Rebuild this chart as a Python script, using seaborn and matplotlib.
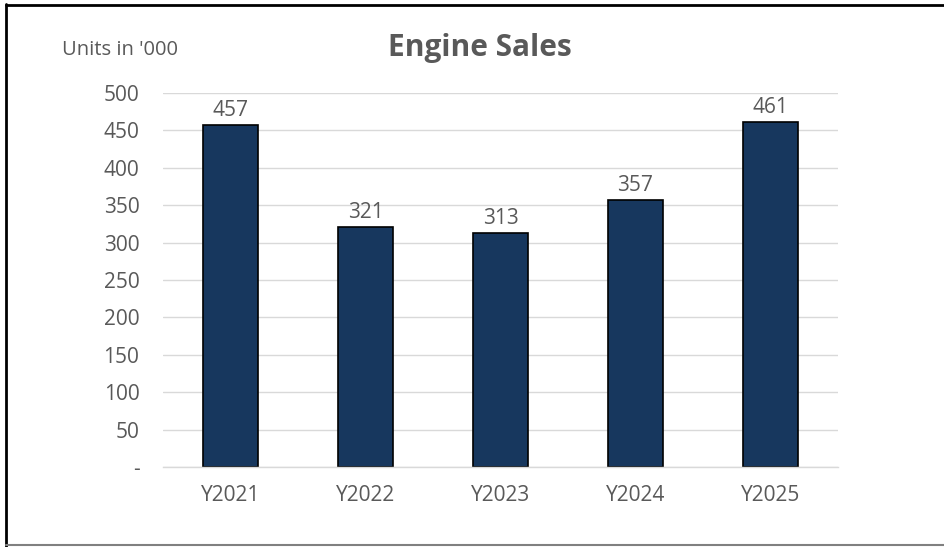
import matplotlib
matplotlib.use("Agg")
import matplotlib.pyplot as plt
import seaborn as sns
import pandas as pd
from matplotlib.lines import Line2D

years = ["Y2021", "Y2022", "Y2023", "Y2024", "Y2025"]
sales = [457, 321, 313, 357, 461]
yticks = [0, 50, 100, 150, 200, 250, 300, 350, 400, 450, 500]
ytick_labels = ["-", "50", "100", "150", "200", "250", "300", "350", "400", "450", "500"]

sns.set_theme(style="white")
plt.rcParams['font.family'] = ['Open Sans', 'DejaVu Sans']

df = pd.DataFrame({"year": years, "sales": sales})

W, H = 945, 547
fig = plt.figure(figsize=(W / 100, H / 100), dpi=100)
ax = fig.add_axes([163 / W, 1 - 467 / H, (838 - 163) / W, (467 - 93) / H])

sns.barplot(data=df, x="year", y="sales", ax=ax, color="#17375E",
            width=0.41, edgecolor="black", linewidth=1.2, saturation=1)

ax.set_ylim(0, 500)
ax.set_yticks(yticks)
ax.set_yticklabels(ytick_labels)
ax.grid(axis="y", color="#D9D9D9", linewidth=1)
ax.set_axisbelow(True)
for s in ["top", "right", "left"]:
    ax.spines[s].set_visible(False)
ax.spines["bottom"].set_color("#D9D9D9")
ax.spines["bottom"].set_linewidth(1)
ax.set_xlabel("")
ax.set_ylabel("")
ax.tick_params(axis="both", length=0, labelsize=15, labelcolor="#595959")
ax.tick_params(axis="x", pad=13)
ax.tick_params(axis="y", pad=17)
for lbl in ax.get_yticklabels():
    lbl.set_horizontalalignment("right")

for c in ax.containers:
    ax.bar_label(c, labels=[str(v) for v in sales], padding=3,
                 fontsize=15, color="#595959")

fig.text(480 / W, 1 - 48 / H, "Engine Sales", ha="center", va="center",
         fontsize=21.5, fontweight="bold", color="#595959")
fig.text(62 / W, 1 - 50 / H, "Units in '000", ha="left", va="center",
         fontsize=14.5, color="#595959")

fig.add_artist(Line2D([6 / W, 6 / W], [0, 1 - 4 / H], transform=fig.transFigure,
                      color="black", linewidth=2))
fig.add_artist(Line2D([6 / W, 1], [1 - 4.5 / H, 1 - 4.5 / H], transform=fig.transFigure,
                      color="black", linewidth=2))
fig.add_artist(Line2D([6 / W, 1], [1 - 545 / H, 1 - 545 / H], transform=fig.transFigure,
                      color="#808080", linewidth=1.5))

fig.savefig("out.png", dpi=100)
